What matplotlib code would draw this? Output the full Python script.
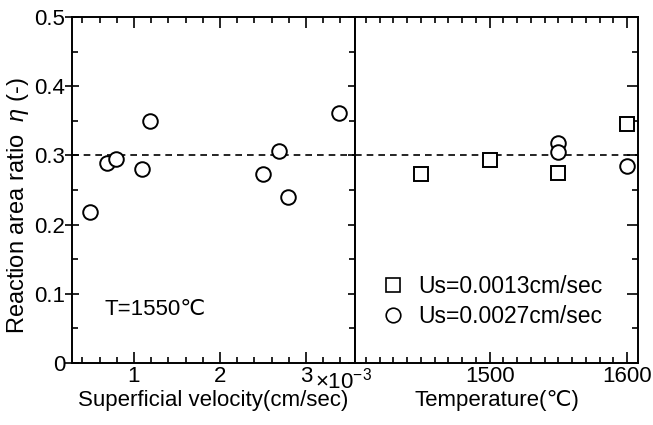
import matplotlib
matplotlib.use("Agg")
import matplotlib.pyplot as plt
from matplotlib.ticker import MultipleLocator
from matplotlib.lines import Line2D

plt.rcParams['font.family'] = ['Liberation Sans', 'DejaVu Sans']
plt.rcParams['mathtext.fontset'] = 'custom'
plt.rcParams['mathtext.rm'] = 'Liberation Sans'
plt.rcParams['mathtext.it'] = 'Liberation Sans:italic'

# Left panel: superficial velocity (x1e-3 cm/sec) vs reaction area ratio, T=1550C
vel = [0.49, 0.69, 0.79, 1.09, 1.19, 2.50, 2.69, 2.79, 3.38]
eta_vel = [0.218, 0.289, 0.295, 0.280, 0.350, 0.273, 0.306, 0.240, 0.361]

# Right panel: temperature vs ratio
temp_sq = [1450, 1500, 1550, 1600]
eta_sq = [0.273, 0.293, 0.274, 0.345]
temp_ci = [1550, 1550, 1600]
eta_ci = [0.318, 0.305, 0.285]

ref_eta = 0.301
yticks = [0, 0.1, 0.2, 0.3, 0.4, 0.5]
ytick_labels = ['0', '0.1', '0.2', '0.3', '0.4', '0.5']

FS = 16
W, H = 653, 425
fig = plt.figure(figsize=(W / 100, H / 100), dpi=100)

axL = fig.add_axes([72 / W, 1 - 363 / H, 283 / W, 346 / H])
axR = fig.add_axes([355 / W, 1 - 363 / H, 283 / W, 346 / H])

for ax in (axL, axR):
    for s in ax.spines.values():
        s.set_linewidth(1.4)
    ax.set_ylim(0, 0.5)
    ax.yaxis.set_major_locator(MultipleLocator(0.1))
    ax.yaxis.set_minor_locator(MultipleLocator(0.05))
    ax.axhline(ref_eta, color='black', lw=1.2, ls=(0, (4, 3)), zorder=1)
    ax.tick_params(which='both', direction='in', top=True, right=True, width=1.2)
    ax.tick_params(which='major', length=8, labelsize=FS, pad=2)
    ax.tick_params(which='minor', length=4)

# Left panel
axL.plot(vel, eta_vel, ls='none', marker='o', ms=10.5, mfc='white', mec='black', mew=1.4, zorder=3)
axL.set_xlim(0.28, 3.57)
axL.xaxis.set_major_locator(MultipleLocator(1))
axL.xaxis.set_minor_locator(MultipleLocator(0.2))
axL.set_xticks([1, 2, 3])
axL.set_xticklabels(['1', '2', '3'])
axL.set_yticks(yticks)
axL.set_yticklabels(ytick_labels)
axL.tick_params(axis='y', which='major', direction='inout', length=10, pad=0)
axL.set_xlabel('Superficial velocity(cm/sec)', fontsize=FS, labelpad=2)
axL.set_ylabel(r'Reaction area ratio  $\it{\eta}$ (-)', fontsize=17)
axL.yaxis.set_label_coords(-0.145, 0.455)
axL.text(0.115, 0.155, 'T=1550℃', transform=axL.transAxes, fontsize=FS, va='center', ha='left')
axL.text(0.86, -0.05, r'$\times$10$^{-3}$', transform=axL.transAxes, fontsize=FS, va='center', ha='left')

# Right panel
axR.plot(temp_sq, eta_sq, ls='none', marker='s', ms=10, mfc='white', mec='black', mew=1.4, zorder=3)
axR.plot(temp_ci, eta_ci, ls='none', marker='o', ms=10.5, mfc='white', mec='black', mew=1.4, zorder=3)
axR.set_xlim(1402, 1608)
axR.xaxis.set_major_locator(MultipleLocator(100))
axR.xaxis.set_minor_locator(MultipleLocator(10))
axR.set_xticks([1500, 1600])
axR.set_xticklabels(['1500', '1600'])
axR.tick_params(axis='y', which='both', left=False, labelleft=False)
axR.set_xlabel('Temperature(℃)', fontsize=FS, labelpad=2)

handles = [Line2D([], [], ls='none', marker='s', ms=10, mfc='white', mec='black', mew=1.2),
           Line2D([], [], ls='none', marker='o', ms=10.5, mfc='white', mec='black', mew=1.2)]
axR.legend(handles, ['Us=0.0013cm/sec', 'Us=0.0027cm/sec'], loc='lower left',
           bbox_to_anchor=(0.06, 0.076), frameon=False, fontsize=16.5,
           handlelength=1.0, handletextpad=0.6, labelspacing=0.3, borderaxespad=0)

fig.savefig('out.png', dpi=100)
